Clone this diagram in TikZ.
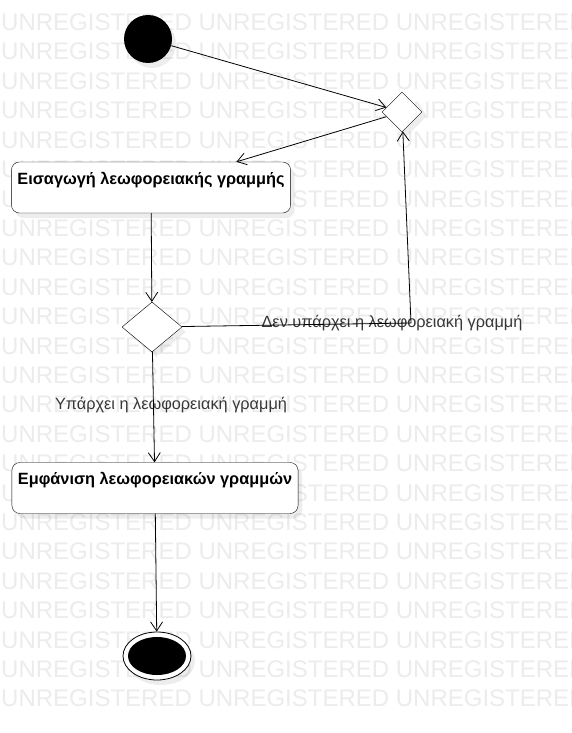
\documentclass[tikz,border=0pt]{standalone}
\usepackage{fontspec}
\setmainfont{Liberation Sans}
\usetikzlibrary{shapes.geometric,arrows.meta,shadows}
\definecolor{wmgray}{RGB}{236,236,236}
\definecolor{lblgray}{RGB}{55,55,55}
\tikzset{
  wmark/.style={anchor=base west,inner sep=0pt,text=wmgray,font=\fontsize{24}{24}\selectfont},
  shade/.style={drop shadow={shadow xshift=4pt,shadow yshift=-5pt,fill=black,opacity=0.07}},
  act/.style={draw,rounded corners=8pt,fill=white,shade,inner xsep=6pt,inner ysep=10pt,
    text height=12pt,text depth=19pt,font=\bfseries\fontsize{16.3}{18}\selectfont},
  dec/.style={diamond,draw,fill=white,shade,inner sep=0pt,aspect=1},
  guard/.style={text=lblgray,inner sep=1pt,font=\fontsize{16.3}{18}\selectfont},
  flow/.style={-{Straight Barb[length=9pt,width=12pt]},line width=0.8pt}
}
\begin{document}
\begin{tikzpicture}[x=1pt,y=-1pt]
\useasboundingbox (0,0) rectangle (572,733);
\fill[white] (0,0) rectangle (572,733);
\begin{scope}
\clip (0,0) rectangle (572,733);
\foreach \r in {0,...,23}
  \node[wmark] (wm\r) at (1,30.6+29.4*\r) {UNREGISTERED UNREGISTERED UNREGISTERED};
\end{scope}
\node at (148,39) [circle,fill=black,shade,minimum size=48pt,inner sep=0pt] (start) {};
\node at (402,112) [dec,minimum width=40pt,minimum height=40pt] (dec1) {};
\node at (151,187.5) [act] (enter) {Εισαγωγή λεωφορειακής γραμμής};
\node at (152,327) [dec,minimum width=60pt,minimum height=50pt] (dec2) {};
\node at (155,488) [act] (show) {Εμφάνιση λεωφορειακών γραμμών};
\node at (157,656) [ellipse,draw,fill=white,shade,line width=0.8pt,minimum width=68pt,minimum height=48pt] (final) {};
\fill (final.center) ellipse [x radius=29,y radius=19];
\coordinate (bend) at (411,323);
\node at (392,323) [guard] (nolbl) {Δεν υπάρχει η λεωφορειακή γραμμή};
\node at (171,405) [guard] (yeslbl) {Υπάρχει η λεωφορειακή γραμμή};
\draw[flow] (start) -- (dec1);
\draw[flow] (dec1) -- (enter);
\draw[flow] (enter) -- (dec2);
\draw[flow] (dec2) -- (bend) -- (dec1);
\draw[flow] (dec2) -- (show);
\draw[flow] (show) -- (final);
\end{tikzpicture}
\end{document}
